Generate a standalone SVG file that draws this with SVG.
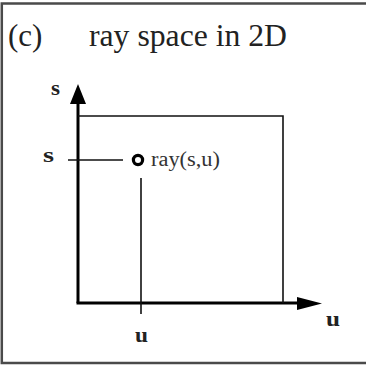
<svg xmlns="http://www.w3.org/2000/svg" width="366" height="368" viewBox="0 0 366 368">
<style>
.frame{fill:none;stroke:#4a4a4a;stroke-width:2.5}
.axis{fill:none;stroke:#000;stroke-width:3}
.thin{fill:none;stroke:#111;stroke-width:1.6}
.head{fill:#000}
.title{font-family:"Liberation Serif","Times New Roman",serif;font-size:31px;fill:#222}
.lbl{font-family:"Liberation Serif","Times New Roman",serif;font-size:20px;fill:#333}
.var{font-family:"Liberation Serif","Times New Roman",serif;font-size:22px;font-weight:bold;fill:#222}
</style>
<rect width="366" height="368" fill="#fff"/>
<path class="frame" d="M370,3.5 H1.8 V363 H370"/>
<g id="title">
<text class="title" x="8" y="46">(c)</text>
<text class="title" x="89" y="46" textLength="198" lengthAdjust="spacingAndGlyphs">ray space in 2D</text>
</g>
<g id="connectors">
<path class="axis" d="M78,303 V100"/>
<polygon class="head" points="78,84 86,104 70,104"/>
<path class="axis" d="M76.5,303 H300"/>
<polygon class="head" points="322,303.5 297,297 297,310"/>
<path class="thin" d="M78,116 H283 V303"/>
<path class="thin" d="M68,160 H123"/>
<path class="thin" d="M141,178 V314"/>
</g>
<g id="ray">
<circle cx="138" cy="160" r="4.6" fill="#fff" stroke="#000" stroke-width="3.2"/>
<text class="lbl" x="151" y="166" textLength="69" lengthAdjust="spacingAndGlyphs">ray(s,u)</text>
</g>
<g id="labels">
<text class="var" x="51" y="95" textLength="9" lengthAdjust="spacingAndGlyphs">s</text>
<text class="var" x="43" y="162" textLength="11" lengthAdjust="spacingAndGlyphs">s</text>
<text class="var" x="135" y="342" textLength="13" lengthAdjust="spacingAndGlyphs">u</text>
<text class="var" x="326" y="326" textLength="14" lengthAdjust="spacingAndGlyphs">u</text>
</g>
</svg>
